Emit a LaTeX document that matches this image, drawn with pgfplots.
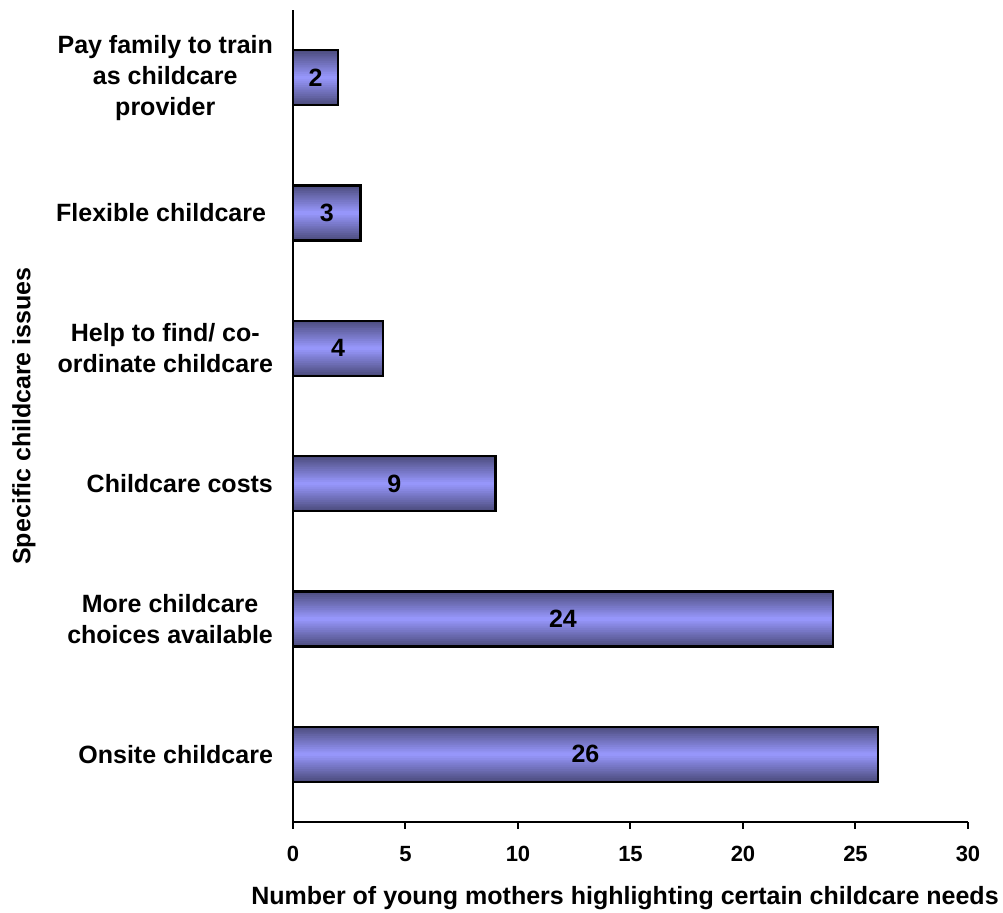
\documentclass[border=0pt]{standalone}
\usepackage{fontspec}
\setmainfont{Liberation Sans}
\usepackage{pgfplots}
\usepackage{pgfplotstable}
\pgfplotsset{compat=1.18}
\newcommand{\lbl}{\fontsize{12.5}{15.5}\selectfont\bfseries}
\newcommand{\tck}{\fontsize{11}{13}\selectfont\bfseries}
\definecolor{barmid}{RGB}{150,150,250}
\definecolor{baredge}{RGB}{78,78,128}

% number of young mothers per childcare issue (y = category index, bottom to top)
\pgfplotstableread{
count pos
26 0
24 1
9  2
4  3
3  4
2  5
}\needs

\begin{document}
\begin{tikzpicture}
\begin{axis}[
  scale only axis,
  width=337.5pt, height=406pt,
  xmin=0, xmax=30, ymin=-0.5, ymax=5.5,
  axis x line*=bottom, axis y line*=left,
  axis line style={line width=1pt, black},
  xtick={0,5,...,30},
  tick align=outside,
  xtick style={line width=1pt, black},
  major tick length=3.5pt,
  x tick label style={font=\tck, yshift=-5pt},
  ytick={0,1,2,3,4,5},
  ytick style={draw=none},
  yticklabels={Onsite childcare,
    {More childcare\\choices available},
    Childcare costs,
    {Help to find/ co-\\ordinate childcare},
    Flexible childcare\ ,
    {Pay family to train\\as childcare\\provider}},
  yticklabel style={align=center, font=\lbl, xshift=-3pt},
  /pgf/number format/assume math mode=true,
  xlabel={Number of young mothers highlighting certain childcare needs},
  ylabel={Specific childcare issues},
  every axis x label/.style={at={(axis description cs:0.5,0)}, anchor=base, yshift=-41.5pt, xshift=-2.75pt, inner sep=0pt, font=\lbl},
  every axis y label/.style={at={(axis description cs:0,0.5)}, xshift=-134.5pt, rotate=90, anchor=center, inner sep=0pt, font=\lbl},
  clip=false,
]
% shaded bar fill: nested bars, narrowing towards a light centre line
\pgfplotsinvokeforeach{0,...,14}{
  \pgfmathsetmacro{\frac}{100*#1/14}
  \pgfmathsetmacro{\bw}{27.5*(1-#1/15)}
  \edef\layer{\noexpand\addplot[xbar, bar shift=0pt, bar width=\bw pt,
    draw=none, fill=barmid!\frac!baredge, forget plot] table[x=count, y=pos] {\noexpand\needs};}
  \layer
}
% outline and value labels
\addplot[
  xbar, bar shift=0pt, bar width=27.5pt,
  draw=black, line width=1.2pt, fill=none,
  point meta=x,
  visualization depends on={x \as \rawx},
  nodes near coords,
  every node near coord/.append style={anchor=center, font=\lbl, text=black, xshift=-\rawx*5.625pt},
] table[x=count, y=pos] {\needs};
\coordinate (bl) at (rel axis cs:0,0);
\coordinate (tr) at (rel axis cs:1,1);
\end{axis}
\path ([xshift=-146.5pt,yshift=-45.5pt]bl) rectangle ([xshift=17.5pt,yshift=5pt]tr);
\end{tikzpicture}
\end{document}
